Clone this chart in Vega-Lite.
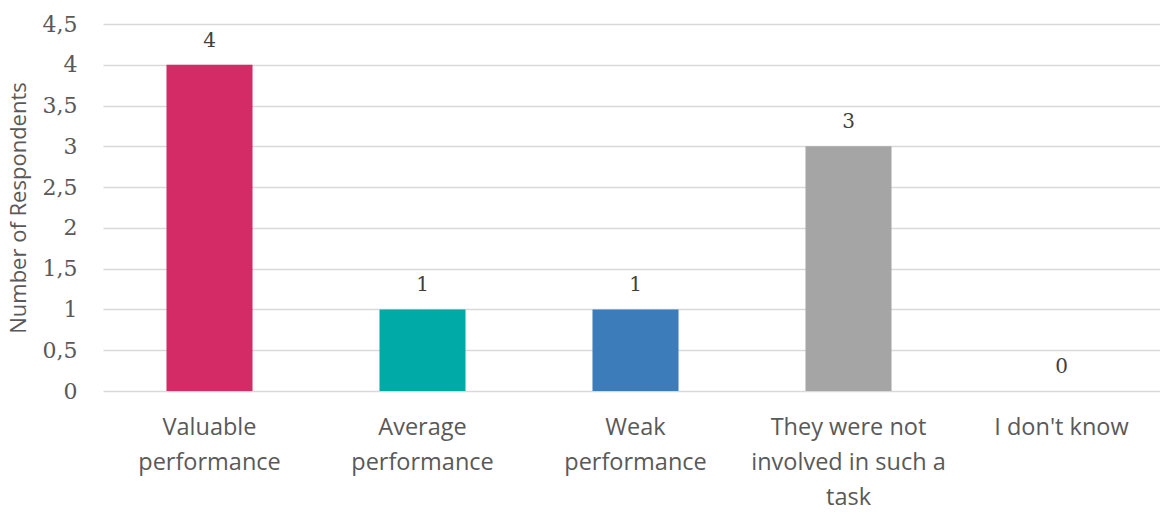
{
  "$schema": "https://vega.github.io/schema/vega-lite/v6.json",
  "autosize": "none",
  "width": 1057,
  "height": 367,
  "padding": {"left": 103, "top": 24, "right": 0, "bottom": 123},
  "background": "white",
  "data": {
    "values": [
      {"category": "Valuable|performance", "respondents": 4, "color": "#D42B67"},
      {"category": "Average|performance", "respondents": 1, "color": "#00AAA7"},
      {"category": "Weak|performance", "respondents": 1, "color": "#3D7CBA"},
      {"category": "They were not|involved in such a|task", "respondents": 3, "color": "#A5A5A5"},
      {"category": "I don't know", "respondents": 0, "color": "#A5A5A5"}
    ]
  },
  "config": {
    "view": {"stroke": null}
  },
  "encoding": {
    "x": {
      "field": "category",
      "type": "nominal",
      "sort": null,
      "scale": {"range": [0, 1065], "paddingInner": 0.596, "paddingOuter": 0.298},
      "axis": {
        "title": null,
        "domain": false,
        "ticks": false,
        "labelAngle": 0,
        "labelFont": "Open Sans",
        "labelFontSize": 23.5,
        "labelColor": "#595959",
        "labelPadding": 24,
        "labelLineHeight": 35,
        "labelLimit": 400,
        "labelBaseline": "top",
        "labelExpr": "split(datum.label, '|')"
      }
    },
    "y": {
      "field": "respondents",
      "type": "quantitative",
      "scale": {"domain": [0, 4.5]},
      "axis": {
        "title": "Number of Respondents",
        "titleFont": "Open Sans",
        "titleFontSize": 22,
        "titleFontWeight": "normal",
        "titleColor": "#595959",
        "titleX": -85,
        "titleBaseline": "middle",
        "values": [0, 0.5, 1, 1.5, 2, 2.5, 3, 3.5, 4, 4.5],
        "labelExpr": "replace(format(datum.value, '~g'), '.', ',')",
        "labelFont": "DejaVu Serif",
        "labelFontSize": 22,
        "labelColor": "#595959",
        "labelPadding": 26,
        "domain": false,
        "ticks": false,
        "grid": true,
        "gridColor": "#D9D9D9",
        "gridWidth": 1.5
      }
    }
  },
  "layer": [
    {
      "mark": {"type": "bar"},
      "encoding": {
        "color": {"field": "color", "type": "nominal", "scale": null}
      }
    },
    {
      "mark": {"type": "text", "dy": -24, "font": "DejaVu Serif", "fontSize": 20, "color": "#404040"},
      "encoding": {
        "text": {"field": "respondents", "type": "quantitative"}
      }
    }
  ]
}
